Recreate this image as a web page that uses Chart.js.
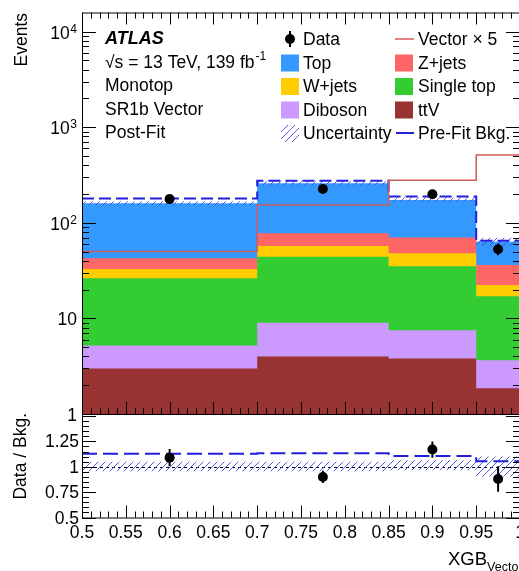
<!DOCTYPE html>
<html>
<head>
<meta charset="utf-8">
<script src="https://cdn.jsdelivr.net/npm/chart.js@4.4.0/dist/chart.umd.min.js"></script>
<style>
  html, body { margin: 0; padding: 0; background: #fff; overflow: hidden; }
  #wrap { position: relative; width: 519px; height: 571px; overflow: hidden; }
  #wrap canvas { position: absolute; left: 0; top: 0; }
</style>
</head>
<body>
<div id="wrap">
  <canvas id="mainChart" width="530" height="571"></canvas>
  <canvas id="ratioChart" width="530" height="571"></canvas>
</div>
<script>
//..binning of XGB_Vector
const binEdges = [0.5, 0.7, 0.85, 0.95, 1.0];
const binCenters = [0.6, 0.775, 0.9, 0.975];

//..post-fit background yields per bin
const ttV = [3.0, 4.0, 3.8, 1.86];
const diboson = [2.2, 5.0, 3.7, 1.8];
const singleTop = [21.1, 35.2, 27.7, 13.4];
const wJets = [6.6, 13.0, 12.7, 5.3];
const zJets = [9.6, 20.4, 22.5, 13.8];
const topBkg = [117.5, 181.4, 102.5, 27.2];

const dataEvents = [177, 226, 199, 53];
const dataErr = [13, 15, 14, 7.3];
const preFitBkg = [180, 275, 188, 65];
const vectorX5 = [50, 154, 279, 512];

//..relative uncertainty band
const uncLow = [0.955, 0.955, 0.965, 0.905];
const uncHigh = [1.05, 1.05, 1.065, 1.10];

//..ratio panel
const ratioData = [1.09, 0.90, 1.17, 0.88];
const ratioErr = [0.085, 0.06, 0.08, 0.125];
const ratioPreFit = [1.128, 1.134, 1.105, 1.055];

//..tick labels
const xTickLabels = ['0.5', '0.55', '0.6', '0.65', '0.7', '0.75', '0.8', '0.85', '0.9', '0.95', '1'];
const mainYTickValues = [1, 10, 100, 1000, 10000];
const mainYTickLabels = [['1', ''], ['10', ''], ['10', '2'], ['10', '3'], ['10', '4']];
const ratioYTickLabels = ['0.5', '0.75', '1', '1.25'];

const FONT = '"Liberation Sans", Arial, Helvetica, sans-serif';
const MAIN_YMAX = 15849;
const RATIO_YMIN = 0.5, RATIO_YMAX = 1.52;

const processes = [
    { label: 'ttV', values: ttV, color: '#993333' },
    { label: 'Diboson', values: diboson, color: '#cc99ff' },
    { label: 'Single top', values: singleTop, color: '#33cc33' },
    { label: 'W+jets', values: wJets, color: '#ffcc00' },
    { label: 'Z+jets', values: zJets, color: '#ff6666' },
    { label: 'Top', values: topBkg, color: '#3399ff' }
];
const vectorColor = '#d05a5a';
const preFitColor = '#1f1fdc';

function stepPoints(values) {
    return binEdges.map((x, i) => ({ x: x, y: values[Math.min(i, values.length - 1)] }));
}
function centerPoints(values) {
    return binCenters.map((x, i) => ({ x: x, y: values[i] }));
}
function makeHatch(ctx) {
    const c = document.createElement('canvas');
    c.width = 7; c.height = 7;
    const g = c.getContext('2d');
    g.strokeStyle = 'rgba(70,70,225,0.9)';
    g.lineWidth = 1;
    g.beginPath();
    g.moveTo(0, 7); g.lineTo(7, 0);
    g.moveTo(-1, 1); g.lineTo(1, -1);
    g.moveTo(6, 8); g.lineTo(8, 6);
    g.stroke();
    return ctx.createPattern(c, 'repeat');
}

//..tick marks pointing into the frame
function xTicks(ctx, chart, yEdge, dir, majorLen, minorLen) {
    const x = chart.scales.x;
    for (let k = 50; k <= 100; k++) {
        const px = Math.round(x.getPixelForValue(k / 100)) + 0.5;
        const len = k % 5 === 0 ? majorLen : minorLen;
        ctx.moveTo(px, yEdge);
        ctx.lineTo(px, yEdge + dir * len);
    }
}
function yTicks(ctx, chart, values, majorFlags, majorLen, minorLen) {
    const y = chart.scales.y, a = chart.chartArea;
    values.forEach((v, i) => {
        const py = Math.round(y.getPixelForValue(v)) + 0.5;
        const len = majorFlags[i] ? majorLen : minorLen;
        ctx.moveTo(a.left, py); ctx.lineTo(a.left + len, py);
        ctx.moveTo(a.right, py); ctx.lineTo(a.right - len, py);
    });
}
function drawErrorBars(chart, values, errs) {
    const { ctx, scales: { x, y } } = chart;
    ctx.save();
    ctx.strokeStyle = '#000';
    ctx.lineWidth = 2;
    ctx.beginPath();
    values.forEach((v, i) => {
        const px = x.getPixelForValue(binCenters[i]);
        ctx.moveTo(px, y.getPixelForValue(v - errs[i]));
        ctx.lineTo(px, y.getPixelForValue(v + errs[i]));
    });
    ctx.stroke();
    ctx.restore();
}

//..main panel
const mainCtx = document.getElementById('mainChart').getContext('2d');
const mainHatch = makeHatch(mainCtx);

let running = [0, 0, 0, 0];
const stackSets = processes.map((p, k) => {
    running = running.map((r, i) => r + p.values[i]);
    return {
        label: p.label,
        data: stepPoints(running),
        stepped: 'before',
        fill: 'start',
        backgroundColor: p.color,
        borderColor: 'transparent',
        borderWidth: 0,
        pointRadius: 0,
        order: 20 + k
    };
});
const totalBkg = running;

const mainDecor = {
    id: 'mainDecor',
    afterDatasetsDraw(chart) {
        drawErrorBars(chart, dataEvents, dataErr);
    },
    afterDraw(chart) {
        const { ctx, chartArea: a, scales: { y } } = chart;
        ctx.save();
        ctx.strokeStyle = '#000';
        ctx.lineWidth = 1;
        ctx.beginPath();
        ctx.rect(a.left + 0.5, a.top + 0.5, a.right - a.left, a.bottom - a.top);
        xTicks(ctx, chart, a.top, 1, 12, 6);
        xTicks(ctx, chart, a.bottom, -1, 12, 6);
        const yVals = [], yMajor = [];
        mainYTickValues.forEach(d => {
            for (let m = 1; m <= 9; m++) {
                if (d * m <= MAIN_YMAX) { yVals.push(d * m); yMajor.push(m === 1); }
            }
        });
        yTicks(ctx, chart, yVals, yMajor, 14, 7);
        ctx.stroke();

        //..y tick labels with superscript powers
        ctx.fillStyle = '#000';
        ctx.textAlign = 'right';
        ctx.textBaseline = 'alphabetic';
        mainYTickValues.forEach((v, i) => {
            const py = y.getPixelForValue(v);
            const [base, sup] = mainYTickLabels[i];
            let right = 77;
            if (sup) {
                ctx.font = '12px ' + FONT;
                ctx.fillText(sup, right, py + 1);
                right -= ctx.measureText(sup).width + 0.5;
            }
            ctx.font = '17.5px ' + FONT;
            ctx.fillText(base, right, py + 7);
        });

        //..axis title
        ctx.save();
        ctx.translate(27, 13);
        ctx.rotate(-Math.PI / 2);
        ctx.textAlign = 'right';
        ctx.font = '17.5px ' + FONT;
        ctx.fillText('Events', 0, 0);
        ctx.restore();

        //..ATLAS label block
        ctx.textAlign = 'left';
        ctx.font = 'bold italic 18px ' + FONT;
        ctx.fillText('ATLAS', 105, 44);
        ctx.font = '17.5px ' + FONT;
        const lumi = '\u221As = 13 TeV, 139 fb';
        ctx.fillText(lumi, 105, 67.5);
        const lw = ctx.measureText(lumi).width;
        ctx.font = '12px ' + FONT;
        ctx.fillText('-1', 105 + lw + 1, 60);
        ctx.font = '17.5px ' + FONT;
        ctx.fillText('Monotop', 105, 91);
        ctx.fillText('SR1b Vector', 105, 114.5);
        ctx.fillText('Post-Fit', 105, 138);

        //..legend
        const rows = [45, 68.5, 92, 115.5, 139];
        const colBox = [281, 395], colText = [303, 418];
        const box = (col, row, color) => {
            ctx.fillStyle = color;
            ctx.fillRect(colBox[col], rows[row] - 14, 18, 17);
        };
        const label = (col, row, text) => {
            ctx.fillStyle = '#000';
            ctx.font = '17.5px ' + FONT;
            ctx.fillText(text, colText[col], rows[row]);
        };
        const colorOf = name => processes.find(p => p.label === name).color;

        //..data marker
        ctx.fillStyle = '#000';
        ctx.beginPath();
        ctx.arc(290, rows[0] - 6, 5, 0, Math.PI * 2);
        ctx.fill();
        ctx.fillRect(289, rows[0] - 14, 2, 16);
        label(0, 0, 'Data');

        ctx.strokeStyle = vectorColor;
        ctx.lineWidth = 1.5;
        ctx.beginPath();
        ctx.moveTo(395, rows[0] - 6); ctx.lineTo(414, rows[0] - 6);
        ctx.stroke();
        label(1, 0, 'Vector \u00d7 5');

        box(0, 1, colorOf('Top')); label(0, 1, 'Top');
        box(1, 1, colorOf('Z+jets')); label(1, 1, 'Z+jets');
        box(0, 2, colorOf('W+jets')); label(0, 2, 'W+jets');
        box(1, 2, colorOf('Single top')); label(1, 2, 'Single top');
        box(0, 3, colorOf('Diboson')); label(0, 3, 'Diboson');
        box(1, 3, colorOf('ttV')); label(1, 3, 'ttV');
        box(0, 4, mainHatch); label(0, 4, 'Uncertainty');

        ctx.strokeStyle = preFitColor;
        ctx.lineWidth = 2;
        ctx.beginPath();
        ctx.moveTo(396, rows[4] - 6); ctx.lineTo(414, rows[4] - 6);
        ctx.stroke();
        label(1, 4, 'Pre-Fit Bkg.');
        ctx.restore();
    }
};

new Chart(mainCtx, {
    type: 'line',
    data: {
        datasets: [
            ...stackSets,
            {
                label: 'uncUp',
                data: stepPoints(totalBkg.map((t, i) => t * uncHigh[i])),
                stepped: 'before', fill: false,
                borderColor: 'transparent', borderWidth: 0, pointRadius: 0, order: 11
            },
            {
                label: 'Uncertainty',
                data: stepPoints(totalBkg.map((t, i) => t * uncLow[i])),
                stepped: 'before', fill: { target: 6 },
                backgroundColor: mainHatch,
                borderColor: 'transparent', borderWidth: 0, pointRadius: 0, order: 10
            },
            {
                label: 'Pre-Fit Bkg.',
                data: stepPoints(preFitBkg),
                stepped: 'before', fill: false,
                borderColor: preFitColor, borderWidth: 2, borderDash: [12, 5],
                pointRadius: 0, order: 5
            },
            {
                label: 'Vector x 5',
                data: stepPoints(vectorX5),
                stepped: 'before', fill: false,
                borderColor: vectorColor, borderWidth: 1.5,
                pointRadius: 0, order: 4
            },
            {
                label: 'Data',
                data: centerPoints(dataEvents),
                showLine: false,
                pointRadius: 5, pointBackgroundColor: '#000', pointBorderWidth: 0,
                order: 1
            }
        ]
    },
    options: {
        responsive: false,
        animation: false,
        devicePixelRatio: 1,
        layout: { padding: { left: 82, right: 10, top: 12.5, bottom: 157 } },
        plugins: { legend: { display: false }, tooltip: { enabled: false } },
        scales: {
            x: { type: 'linear', min: 0.5, max: 1.0, display: false },
            y: { type: 'logarithmic', min: 1, max: MAIN_YMAX, display: false }
        }
    },
    plugins: [mainDecor]
});

//..ratio panel
const ratioCtx = document.getElementById('ratioChart').getContext('2d');
const ratioHatch = makeHatch(ratioCtx);

const ratioDecor = {
    id: 'ratioDecor',
    beforeDatasetsDraw(chart) {
        const { ctx, chartArea: a, scales: { y } } = chart;
        const py = Math.round(y.getPixelForValue(1)) + 0.5;
        ctx.save();
        ctx.strokeStyle = '#000';
        ctx.lineWidth = 1;
        ctx.setLineDash([3, 3]);
        ctx.beginPath();
        ctx.moveTo(a.left, py); ctx.lineTo(a.right, py);
        ctx.stroke();
        ctx.restore();
    },
    afterDatasetsDraw(chart) {
        drawErrorBars(chart, ratioData, ratioErr);
    },
    afterDraw(chart) {
        const { ctx, chartArea: a, scales: { x, y } } = chart;
        ctx.save();
        ctx.strokeStyle = '#000';
        ctx.lineWidth = 1;
        ctx.beginPath();
        ctx.rect(a.left + 0.5, a.top + 0.5, a.right - a.left, a.bottom - a.top);
        xTicks(ctx, chart, a.bottom, -1, 12, 6);
        const yVals = [], yMajor = [];
        for (let k = 10; k * 0.05 <= RATIO_YMAX + 1e-9; k++) {
            yVals.push(k * 0.05); yMajor.push(k % 5 === 0);
        }
        yTicks(ctx, chart, yVals, yMajor, 14, 7);
        ctx.stroke();

        ctx.fillStyle = '#000';
        ctx.font = '17.5px ' + FONT;
        ctx.textAlign = 'right';
        ctx.textBaseline = 'alphabetic';
        ratioYTickLabels.forEach(t => {
            ctx.fillText(t, 79, y.getPixelForValue(parseFloat(t)) + 6);
        });
        ctx.textAlign = 'center';
        xTickLabels.forEach(t => {
            ctx.fillText(t, x.getPixelForValue(parseFloat(t)), 538);
        });

        ctx.save();
        ctx.translate(26, 413);
        ctx.rotate(-Math.PI / 2);
        ctx.textAlign = 'right';
        ctx.fillText('Data / Bkg.', 0, 0);
        ctx.restore();

        ctx.textAlign = 'left';
        ctx.font = '18.5px ' + FONT;
        ctx.fillText('XGB', 448, 565);
        const w = ctx.measureText('XGB').width;
        ctx.font = '12.5px ' + FONT;
        ctx.fillText('Vector', 448 + w, 571);
        ctx.restore();
    }
};

new Chart(ratioCtx, {
    type: 'line',
    data: {
        datasets: [
            {
                label: 'uncUp',
                data: stepPoints(uncHigh),
                stepped: 'before', fill: false,
                borderColor: 'transparent', borderWidth: 0, pointRadius: 0, order: 11
            },
            {
                label: 'Uncertainty',
                data: stepPoints(uncLow),
                stepped: 'before', fill: { target: 0 },
                backgroundColor: ratioHatch,
                borderColor: 'transparent', borderWidth: 0, pointRadius: 0, order: 10
            },
            {
                label: 'Pre-Fit Bkg.',
                data: stepPoints(ratioPreFit),
                stepped: 'before', fill: false,
                borderColor: preFitColor, borderWidth: 2, borderDash: [15, 6],
                pointRadius: 0, order: 5
            },
            {
                label: 'Data',
                data: centerPoints(ratioData),
                showLine: false,
                pointRadius: 5, pointBackgroundColor: '#000', pointBorderWidth: 0,
                order: 1
            }
        ]
    },
    options: {
        responsive: false,
        animation: false,
        devicePixelRatio: 1,
        layout: { padding: { left: 82, right: 10, top: 414, bottom: 53.5 } },
        plugins: { legend: { display: false }, tooltip: { enabled: false } },
        scales: {
            x: { type: 'linear', min: 0.5, max: 1.0, display: false },
            y: { type: 'linear', min: RATIO_YMIN, max: RATIO_YMAX, display: false }
        }
    },
    plugins: [ratioDecor]
});
</script>
</body>
</html>
